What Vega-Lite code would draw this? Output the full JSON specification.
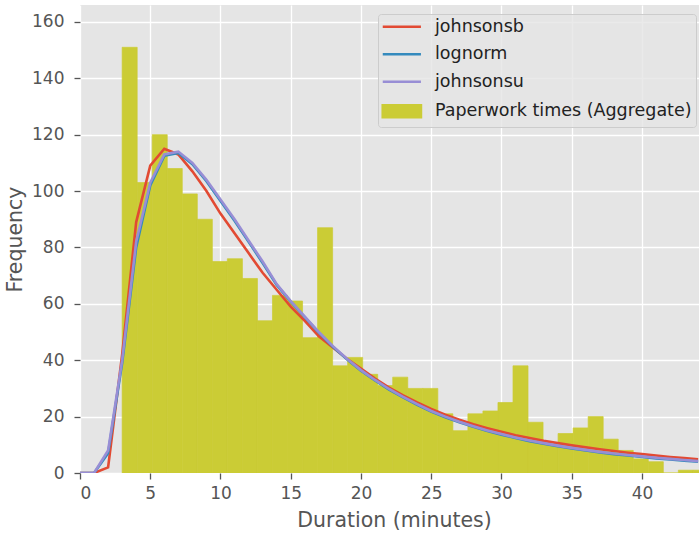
{
  "$schema": "https://vega.github.io/schema/vega-lite/v6.json",
  "width": 619,
  "height": 468,
  "autosize": {"type": "none"},
  "padding": {"left": 80, "top": 5, "right": 0, "bottom": 62},
  "background": "white",
  "config": {
    "font": "DejaVu Sans",
    "view": {"fill": "#E5E5E5", "stroke": null},
    "axis": {
      "grid": true, "gridColor": "#FFFFFF", "gridWidth": 1.3,
      "domain": false, "tickColor": "#555555", "tickSize": 6, "tickWidth": 1.3,
      "labelColor": "#555555", "labelFontSize": 17, "labelFont": "DejaVu Sans",
      "titleColor": "#555555", "titleFontSize": 20.5, "titleFont": "DejaVu Sans", "titleFontWeight": "normal"
    }
  },
  "datasets": {
    "bins": [
      {"start": 3.00, "end": 4.07, "count": 151, "series": "Paperwork times (Aggregate)"},
      {"start": 4.07, "end": 5.14, "count": 103, "series": "Paperwork times (Aggregate)"},
      {"start": 5.14, "end": 6.21, "count": 120, "series": "Paperwork times (Aggregate)"},
      {"start": 6.21, "end": 7.28, "count": 108, "series": "Paperwork times (Aggregate)"},
      {"start": 7.28, "end": 8.35, "count": 99, "series": "Paperwork times (Aggregate)"},
      {"start": 8.35, "end": 9.42, "count": 90, "series": "Paperwork times (Aggregate)"},
      {"start": 9.42, "end": 10.49, "count": 75, "series": "Paperwork times (Aggregate)"},
      {"start": 10.49, "end": 11.56, "count": 76, "series": "Paperwork times (Aggregate)"},
      {"start": 11.56, "end": 12.63, "count": 69, "series": "Paperwork times (Aggregate)"},
      {"start": 12.63, "end": 13.70, "count": 54, "series": "Paperwork times (Aggregate)"},
      {"start": 13.70, "end": 14.77, "count": 63, "series": "Paperwork times (Aggregate)"},
      {"start": 14.77, "end": 15.84, "count": 61, "series": "Paperwork times (Aggregate)"},
      {"start": 15.84, "end": 16.91, "count": 48, "series": "Paperwork times (Aggregate)"},
      {"start": 16.91, "end": 17.98, "count": 87, "series": "Paperwork times (Aggregate)"},
      {"start": 17.98, "end": 19.05, "count": 38, "series": "Paperwork times (Aggregate)"},
      {"start": 19.05, "end": 20.12, "count": 41, "series": "Paperwork times (Aggregate)"},
      {"start": 20.12, "end": 21.19, "count": 35, "series": "Paperwork times (Aggregate)"},
      {"start": 21.19, "end": 22.26, "count": 31, "series": "Paperwork times (Aggregate)"},
      {"start": 22.26, "end": 23.33, "count": 34, "series": "Paperwork times (Aggregate)"},
      {"start": 23.33, "end": 24.40, "count": 30, "series": "Paperwork times (Aggregate)"},
      {"start": 24.40, "end": 25.47, "count": 30, "series": "Paperwork times (Aggregate)"},
      {"start": 25.47, "end": 26.54, "count": 21, "series": "Paperwork times (Aggregate)"},
      {"start": 26.54, "end": 27.61, "count": 15, "series": "Paperwork times (Aggregate)"},
      {"start": 27.61, "end": 28.68, "count": 21, "series": "Paperwork times (Aggregate)"},
      {"start": 28.68, "end": 29.75, "count": 22, "series": "Paperwork times (Aggregate)"},
      {"start": 29.75, "end": 30.82, "count": 25, "series": "Paperwork times (Aggregate)"},
      {"start": 30.82, "end": 31.89, "count": 38, "series": "Paperwork times (Aggregate)"},
      {"start": 31.89, "end": 32.96, "count": 18, "series": "Paperwork times (Aggregate)"},
      {"start": 32.96, "end": 34.03, "count": 10, "series": "Paperwork times (Aggregate)"},
      {"start": 34.03, "end": 35.10, "count": 14, "series": "Paperwork times (Aggregate)"},
      {"start": 35.10, "end": 36.17, "count": 16, "series": "Paperwork times (Aggregate)"},
      {"start": 36.17, "end": 37.24, "count": 20, "series": "Paperwork times (Aggregate)"},
      {"start": 37.24, "end": 38.31, "count": 12, "series": "Paperwork times (Aggregate)"},
      {"start": 38.31, "end": 39.38, "count": 8, "series": "Paperwork times (Aggregate)"},
      {"start": 39.38, "end": 40.45, "count": 5, "series": "Paperwork times (Aggregate)"},
      {"start": 40.45, "end": 41.52, "count": 4, "series": "Paperwork times (Aggregate)"},
      {"start": 41.52, "end": 42.59, "count": 0, "series": "Paperwork times (Aggregate)"},
      {"start": 42.59, "end": 43.66, "count": 1, "series": "Paperwork times (Aggregate)"},
      {"start": 43.66, "end": 44.73, "count": 1, "series": "Paperwork times (Aggregate)"}
    ],
    "fits": [
      {"x": 0, "y": 0, "series": "johnsonsb"}, {"x": 1, "y": 0, "series": "johnsonsb"},
      {"x": 2, "y": 2, "series": "johnsonsb"}, {"x": 3, "y": 42, "series": "johnsonsb"},
      {"x": 4, "y": 89, "series": "johnsonsb"}, {"x": 5, "y": 109, "series": "johnsonsb"},
      {"x": 6, "y": 115, "series": "johnsonsb"}, {"x": 7, "y": 113, "series": "johnsonsb"},
      {"x": 8, "y": 107, "series": "johnsonsb"}, {"x": 9, "y": 100, "series": "johnsonsb"},
      {"x": 10, "y": 92, "series": "johnsonsb"}, {"x": 11, "y": 85, "series": "johnsonsb"},
      {"x": 12, "y": 78, "series": "johnsonsb"}, {"x": 13, "y": 71, "series": "johnsonsb"},
      {"x": 14, "y": 65, "series": "johnsonsb"}, {"x": 15, "y": 59, "series": "johnsonsb"},
      {"x": 16, "y": 54, "series": "johnsonsb"}, {"x": 17, "y": 48.5, "series": "johnsonsb"},
      {"x": 18, "y": 44.5, "series": "johnsonsb"}, {"x": 19, "y": 40.5, "series": "johnsonsb"},
      {"x": 20, "y": 37, "series": "johnsonsb"}, {"x": 21, "y": 33.5, "series": "johnsonsb"},
      {"x": 22, "y": 30.3, "series": "johnsonsb"}, {"x": 23, "y": 27.5, "series": "johnsonsb"},
      {"x": 24, "y": 25, "series": "johnsonsb"}, {"x": 25, "y": 22.7, "series": "johnsonsb"},
      {"x": 26, "y": 20.7, "series": "johnsonsb"}, {"x": 27, "y": 18.9, "series": "johnsonsb"},
      {"x": 28, "y": 17.3, "series": "johnsonsb"}, {"x": 29, "y": 15.9, "series": "johnsonsb"},
      {"x": 30, "y": 14.6, "series": "johnsonsb"}, {"x": 31, "y": 13.4, "series": "johnsonsb"},
      {"x": 32, "y": 12.4, "series": "johnsonsb"}, {"x": 33, "y": 11.4, "series": "johnsonsb"},
      {"x": 34, "y": 10.6, "series": "johnsonsb"}, {"x": 35, "y": 9.8, "series": "johnsonsb"},
      {"x": 36, "y": 9.1, "series": "johnsonsb"}, {"x": 37, "y": 8.4, "series": "johnsonsb"},
      {"x": 38, "y": 7.8, "series": "johnsonsb"}, {"x": 39, "y": 7.2, "series": "johnsonsb"},
      {"x": 40, "y": 6.7, "series": "johnsonsb"}, {"x": 41, "y": 6.2, "series": "johnsonsb"},
      {"x": 42, "y": 5.7, "series": "johnsonsb"}, {"x": 43, "y": 5.3, "series": "johnsonsb"},
      {"x": 44, "y": 4.9, "series": "johnsonsb"},
      {"x": 0, "y": 0, "series": "lognorm"}, {"x": 1, "y": 0, "series": "lognorm"},
      {"x": 2, "y": 7, "series": "lognorm"}, {"x": 3, "y": 39, "series": "lognorm"},
      {"x": 4, "y": 80, "series": "lognorm"}, {"x": 5, "y": 102, "series": "lognorm"},
      {"x": 6, "y": 112.5, "series": "lognorm"}, {"x": 7, "y": 113.5, "series": "lognorm"},
      {"x": 8, "y": 109.5, "series": "lognorm"}, {"x": 9, "y": 103.5, "series": "lognorm"},
      {"x": 10, "y": 96.5, "series": "lognorm"}, {"x": 11, "y": 89.5, "series": "lognorm"},
      {"x": 12, "y": 82, "series": "lognorm"}, {"x": 13, "y": 74.5, "series": "lognorm"},
      {"x": 14, "y": 66.7, "series": "lognorm"}, {"x": 15, "y": 60.8, "series": "lognorm"},
      {"x": 16, "y": 55.3, "series": "lognorm"}, {"x": 17, "y": 49.8, "series": "lognorm"},
      {"x": 18, "y": 44.8, "series": "lognorm"}, {"x": 19, "y": 40.3, "series": "lognorm"},
      {"x": 20, "y": 36.3, "series": "lognorm"}, {"x": 21, "y": 32.8, "series": "lognorm"},
      {"x": 22, "y": 29.6, "series": "lognorm"}, {"x": 23, "y": 26.8, "series": "lognorm"},
      {"x": 24, "y": 24.2, "series": "lognorm"}, {"x": 25, "y": 21.8, "series": "lognorm"},
      {"x": 26, "y": 19.8, "series": "lognorm"}, {"x": 27, "y": 18, "series": "lognorm"},
      {"x": 28, "y": 16.4, "series": "lognorm"}, {"x": 29, "y": 14.9, "series": "lognorm"},
      {"x": 30, "y": 13.6, "series": "lognorm"}, {"x": 31, "y": 12.4, "series": "lognorm"},
      {"x": 32, "y": 11.3, "series": "lognorm"}, {"x": 33, "y": 10.4, "series": "lognorm"},
      {"x": 34, "y": 9.5, "series": "lognorm"}, {"x": 35, "y": 8.7, "series": "lognorm"},
      {"x": 36, "y": 8, "series": "lognorm"}, {"x": 37, "y": 7.3, "series": "lognorm"},
      {"x": 38, "y": 6.7, "series": "lognorm"}, {"x": 39, "y": 6.2, "series": "lognorm"},
      {"x": 40, "y": 5.7, "series": "lognorm"}, {"x": 41, "y": 5.2, "series": "lognorm"},
      {"x": 42, "y": 4.8, "series": "lognorm"}, {"x": 43, "y": 4.4, "series": "lognorm"},
      {"x": 44, "y": 4, "series": "lognorm"},
      {"x": 0, "y": 0, "series": "johnsonsu"}, {"x": 1, "y": 0, "series": "johnsonsu"},
      {"x": 2, "y": 8, "series": "johnsonsu"}, {"x": 3, "y": 40, "series": "johnsonsu"},
      {"x": 4, "y": 82, "series": "johnsonsu"}, {"x": 5, "y": 103, "series": "johnsonsu"},
      {"x": 6, "y": 113, "series": "johnsonsu"}, {"x": 7, "y": 114, "series": "johnsonsu"},
      {"x": 8, "y": 110, "series": "johnsonsu"}, {"x": 9, "y": 104, "series": "johnsonsu"},
      {"x": 10, "y": 97, "series": "johnsonsu"}, {"x": 11, "y": 90, "series": "johnsonsu"},
      {"x": 12, "y": 82.5, "series": "johnsonsu"}, {"x": 13, "y": 75, "series": "johnsonsu"},
      {"x": 14, "y": 67, "series": "johnsonsu"}, {"x": 15, "y": 61, "series": "johnsonsu"},
      {"x": 16, "y": 55.5, "series": "johnsonsu"}, {"x": 17, "y": 50, "series": "johnsonsu"},
      {"x": 18, "y": 45, "series": "johnsonsu"}, {"x": 19, "y": 40.5, "series": "johnsonsu"},
      {"x": 20, "y": 36.5, "series": "johnsonsu"}, {"x": 21, "y": 33, "series": "johnsonsu"},
      {"x": 22, "y": 29.8, "series": "johnsonsu"}, {"x": 23, "y": 27, "series": "johnsonsu"},
      {"x": 24, "y": 24.4, "series": "johnsonsu"}, {"x": 25, "y": 22, "series": "johnsonsu"},
      {"x": 26, "y": 20, "series": "johnsonsu"}, {"x": 27, "y": 18.2, "series": "johnsonsu"},
      {"x": 28, "y": 16.6, "series": "johnsonsu"}, {"x": 29, "y": 15.1, "series": "johnsonsu"},
      {"x": 30, "y": 13.8, "series": "johnsonsu"}, {"x": 31, "y": 12.6, "series": "johnsonsu"},
      {"x": 32, "y": 11.5, "series": "johnsonsu"}, {"x": 33, "y": 10.6, "series": "johnsonsu"},
      {"x": 34, "y": 9.7, "series": "johnsonsu"}, {"x": 35, "y": 8.9, "series": "johnsonsu"},
      {"x": 36, "y": 8.2, "series": "johnsonsu"}, {"x": 37, "y": 7.5, "series": "johnsonsu"},
      {"x": 38, "y": 6.9, "series": "johnsonsu"}, {"x": 39, "y": 6.4, "series": "johnsonsu"},
      {"x": 40, "y": 5.9, "series": "johnsonsu"}, {"x": 41, "y": 5.4, "series": "johnsonsu"},
      {"x": 42, "y": 5, "series": "johnsonsu"}, {"x": 43, "y": 4.6, "series": "johnsonsu"},
      {"x": 44, "y": 4.2, "series": "johnsonsu"}
    ]
  },
  "layer": [
    {
      "data": {"name": "bins"},
      "mark": {"type": "rect", "clip": true, "strokeWidth": 0.7},
      "encoding": {
        "x": {
          "field": "start", "type": "quantitative",
          "scale": {"domain": [0, 44.06], "nice": false, "zero": false},
          "axis": {"title": "Duration (minutes)", "values": [0, 5, 10, 15, 20, 25, 30, 35, 40], "labelPadding": 6, "titlePadding": 9, "titleX": 314}
        },
        "x2": {"field": "end"},
        "y": {
          "field": "count", "type": "quantitative",
          "scale": {"domain": [0, 166], "nice": false},
          "axis": {"title": "Frequency", "values": [0, 20, 40, 60, 80, 100, 120, 140, 160], "labelPadding": 10, "titlePadding": 6}
        },
        "stroke": {"field": "series", "type": "nominal", "legend": null,
          "scale": {"domain": ["Paperwork times (Aggregate)"], "range": ["#CBCC35"]}},
        "color": {
          "field": "series", "type": "nominal",
          "scale": {
            "domain": ["johnsonsb", "lognorm", "johnsonsu", "Paperwork times (Aggregate)"],
            "range": ["#E24A33", "#348ABD", "#988ED5", "#CBCC35"]
          },
          "legend": {
            "orient": "none", "legendX": 298, "legendY": 9, "title": null,
            "labelFontSize": 17.5, "labelColor": "#222222", "labelFont": "DejaVu Sans", "labelLimit": 400,
            "symbolSize": 2, "symbolStrokeWidth": 2.6, "labelOffset": 43.5, "symbolOffset": -8,
            "rowPadding": 8.5, "padding": 4,
            "fillColor": "rgba(229,229,229,0.8)", "strokeColor": "#CCCCCC", "cornerRadius": 3,
            "symbolType": "M0,0H54",
            "encode": {
              "symbols": {
                "update": {
                  "shape": {"signal": "datum.value === 'Paperwork times (Aggregate)' ? 'M0,-8.3H54V8.3H0Z' : 'M0,0H54'"},
                  "fill": {"signal": "datum.value === 'Paperwork times (Aggregate)' ? scale('color', datum.value) : 'transparent'"},
                  "stroke": {"signal": "datum.value === 'Paperwork times (Aggregate)' ? 'transparent' : scale('color', datum.value)"},
                  "opacity": {"value": 1}
                }
              }
            }
          }
        }
      }
    },
    {
      "data": {"name": "fits"},
      "transform": [{"filter": "datum.series === 'johnsonsb'"}],
      "mark": {"type": "line", "clip": true, "strokeWidth": 2.6},
      "encoding": {
        "x": {"field": "x", "type": "quantitative"},
        "y": {"field": "y", "type": "quantitative"},
        "color": {"field": "series", "type": "nominal"}
      }
    },
    {
      "data": {"name": "fits"},
      "transform": [{"filter": "datum.series === 'lognorm'"}],
      "mark": {"type": "line", "clip": true, "strokeWidth": 2.6},
      "encoding": {
        "x": {"field": "x", "type": "quantitative"},
        "y": {"field": "y", "type": "quantitative"},
        "color": {"field": "series", "type": "nominal"}
      }
    },
    {
      "data": {"name": "fits"},
      "transform": [{"filter": "datum.series === 'johnsonsu'"}],
      "mark": {"type": "line", "clip": true, "strokeWidth": 2.6},
      "encoding": {
        "x": {"field": "x", "type": "quantitative"},
        "y": {"field": "y", "type": "quantitative"},
        "color": {"field": "series", "type": "nominal"}
      }
    }
  ]
}
